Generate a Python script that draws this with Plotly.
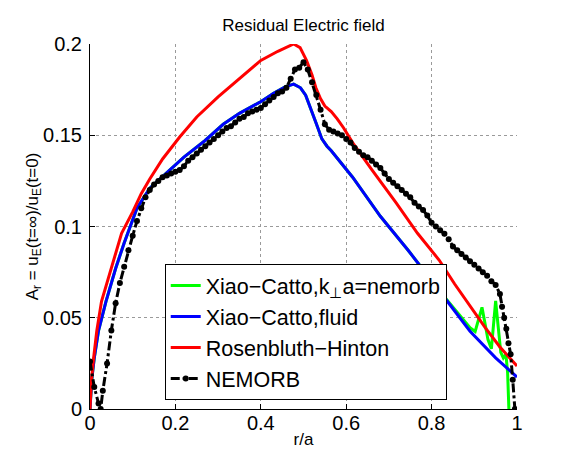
import plotly.graph_objects as go

# ---- data ----
red_x = [0, 0.003, 0.008, 0.016, 0.027, 0.041, 0.055, 0.074, 0.10, 0.12, 0.14, 0.17, 0.21, 0.25, 0.30,
         0.34, 0.373, 0.40, 0.44, 0.477, 0.492, 0.507, 0.52, 0.529, 0.54, 0.55, 0.565, 0.579, 0.594,
         0.615, 0.659, 0.717, 0.767, 0.818, 0.854, 0.90, 0.926, 0.96, 1.0]
red_y = [0, 0.015, 0.027, 0.043, 0.059, 0.070, 0.081, 0.0963, 0.108, 0.118, 0.126, 0.137, 0.149, 0.160,
         0.171, 0.179, 0.186, 0.191, 0.196, 0.200, 0.198, 0.191, 0.183, 0.176, 0.170, 0.166, 0.163,
         0.159, 0.154, 0.146, 0.1315, 0.113, 0.0963, 0.0815, 0.0685, 0.053, 0.0444, 0.034, 0.0235]

blue_x = [0, 0.004, 0.010, 0.020, 0.0375, 0.06, 0.08, 0.11, 0.14, 0.182, 0.22, 0.269, 0.312, 0.35,
          0.397, 0.43, 0.457, 0.477, 0.493, 0.505, 0.514, 0.529, 0.543, 0.555, 0.565, 0.58, 0.615,
          0.68, 0.745, 0.818, 0.890, 0.95, 1.0]
blue_y = [0, 0.016, 0.028, 0.043, 0.059, 0.077, 0.091, 0.110, 0.121, 0.1297, 0.138, 0.147, 0.156,
          0.162, 0.168, 0.173, 0.1765, 0.178, 0.176, 0.172, 0.1667, 0.157, 0.148, 0.144, 0.1415,
          0.137, 0.127, 0.1056, 0.087, 0.0648, 0.0426, 0.028, 0.0175]

green_x = [0, 0.004, 0.010, 0.020, 0.0375, 0.06, 0.08, 0.11, 0.14, 0.182, 0.22, 0.269, 0.312, 0.35,
           0.397, 0.43, 0.457, 0.477, 0.493, 0.505, 0.514, 0.529, 0.543, 0.555, 0.565, 0.58, 0.615,
           0.68, 0.745, 0.818, 0.85, 0.87, 0.89, 0.902, 0.91, 0.918, 0.925, 0.932, 0.94, 0.945,
           0.95, 0.956, 0.962, 0.968, 0.974, 0.978, 0.981]
green_y = [0, 0.016, 0.028, 0.043, 0.059, 0.077, 0.091, 0.110, 0.121, 0.1297, 0.138, 0.147, 0.156,
           0.162, 0.168, 0.173, 0.1765, 0.178, 0.176, 0.172, 0.1667, 0.157, 0.148, 0.144, 0.1415,
           0.137, 0.127, 0.1056, 0.087, 0.0648, 0.056, 0.0505, 0.0445, 0.0425, 0.049, 0.0557,
           0.047, 0.038, 0.033, 0.046, 0.0593, 0.045, 0.031, 0.028, 0.030, 0.020, 0.0]

nem_x = [0.0, 0.01, 0.02, 0.025, 0.03, 0.04, 0.05, 0.06, 0.07, 0.08, 0.09, 0.10, 0.11, 0.12, 0.13,
         0.14, 0.15, 0.16, 0.17, 0.18, 0.19, 0.20, 0.21, 0.22, 0.23, 0.24, 0.25, 0.26, 0.27, 0.28,
         0.29, 0.30, 0.31, 0.32, 0.33, 0.34, 0.35, 0.36, 0.37, 0.38, 0.39, 0.40, 0.41, 0.42, 0.43,
         0.44, 0.45, 0.46, 0.47, 0.48, 0.49, 0.50, 0.51, 0.52, 0.53, 0.54, 0.55, 0.56, 0.57, 0.58,
         0.59, 0.60, 0.61, 0.62, 0.63, 0.64, 0.65, 0.66, 0.67, 0.68, 0.69, 0.70, 0.71, 0.72, 0.73,
         0.74, 0.75, 0.76, 0.77, 0.78, 0.79, 0.80, 0.81, 0.82, 0.83, 0.84, 0.85, 0.86, 0.87, 0.88,
         0.89, 0.90, 0.91, 0.92, 0.93, 0.94, 0.95, 0.96, 0.965, 0.97, 0.975, 0.98, 0.985, 0.99, 0.995]
nem_y = [0.026, 0.012, 0.003, 0.0, 0.010, 0.025, 0.043, 0.058, 0.069, 0.078, 0.087, 0.095, 0.103,
         0.110, 0.116, 0.120, 0.123, 0.125, 0.127, 0.128, 0.129, 0.130, 0.131, 0.133, 0.136, 0.138,
         0.140, 0.142, 0.144, 0.146, 0.148, 0.150, 0.152, 0.154, 0.155, 0.157, 0.159, 0.160, 0.162,
         0.163, 0.164, 0.165, 0.167, 0.169, 0.171, 0.173, 0.174, 0.176, 0.181, 0.186, 0.187, 0.190,
         0.186, 0.179, 0.172, 0.164, 0.156, 0.153, 0.152, 0.151, 0.150, 0.148, 0.146, 0.143, 0.141,
         0.139, 0.138, 0.136, 0.134, 0.132, 0.129, 0.126, 0.124, 0.122, 0.120, 0.118, 0.116, 0.113,
         0.111, 0.109, 0.106, 0.102, 0.100, 0.098, 0.096, 0.093, 0.089, 0.087, 0.085, 0.083, 0.081,
         0.079, 0.077, 0.075, 0.073, 0.070, 0.068, 0.063, 0.056, 0.050, 0.044, 0.036, 0.030, 0.016,
         0.0]

x_ticks = [0, 0.2, 0.4, 0.6, 0.8, 1]
x_labels = ["0", "0.2", "0.4", "0.6", "0.8", "1"]
y_ticks = [0, 0.05, 0.1, 0.15, 0.2]
y_labels = ["0", "0.05", "0.1", "0.15", "0.2"]

FONT = "Liberation Sans, Arial, Helvetica, sans-serif"

fig = go.Figure()
fig.add_trace(go.Scatter(x=green_x, y=green_y, mode="lines", name="Xiao−Catto,k<sub>⊥</sub>a=nemorb",
                         line=dict(color="#00ff00", width=3)))
fig.add_trace(go.Scatter(x=blue_x, y=blue_y, mode="lines", name="Xiao−Catto,fluid",
                         line=dict(color="#0000ff", width=3)))
fig.add_trace(go.Scatter(x=red_x, y=red_y, mode="lines", name="Rosenbluth−Hinton",
                         line=dict(color="#ff0000", width=3)))
fig.add_trace(go.Scatter(x=nem_x, y=nem_y, mode="lines+markers", name="NEMORB",
                         line=dict(color="black", width=3, dash="dashdot"),
                         marker=dict(color="black", size=6)))

fig.update_layout(
    width=563, height=454,
    margin=dict(l=82, r=54, t=36, b=53),
    paper_bgcolor="white", plot_bgcolor="white",
    font=dict(family=FONT, color="black", size=20),
    title=dict(text="Residual Electric field", x=0.5, xref="paper", y=1 - 17 / 454,
               yanchor="middle", font=dict(size=17)),
    showlegend=True,
    legend=dict(x=0.175, y=0.397, xanchor="left", yanchor="top", bgcolor="white",
                bordercolor="black", borderwidth=1, font=dict(size=21.5), tracegroupgap=0),
)
common = dict(showline=True, linecolor="black", linewidth=1, mirror=False, ticks="inside",
              ticklen=5, tickcolor="black", showgrid=True, gridcolor="#9a9a9a", griddash="dot",
              gridwidth=1, zeroline=False, tickfont=dict(size=20))
fig.update_xaxes(range=[0, 1], tickvals=x_ticks, ticktext=x_labels, ticklabelstandoff=-4,
                 title=dict(text="r/a", standoff=0, font=dict(size=17)), **common)
fig.update_yaxes(range=[0, 0.2], tickvals=y_ticks, ticktext=y_labels, ticklabelstandoff=3,
                 title=dict(text="A<sub>r</sub> = u<sub>E</sub>(t=∞)/u<sub>E</sub>(t=0)",
                            standoff=0, font=dict(size=17)), **common)

fig.write_html("out.html")
